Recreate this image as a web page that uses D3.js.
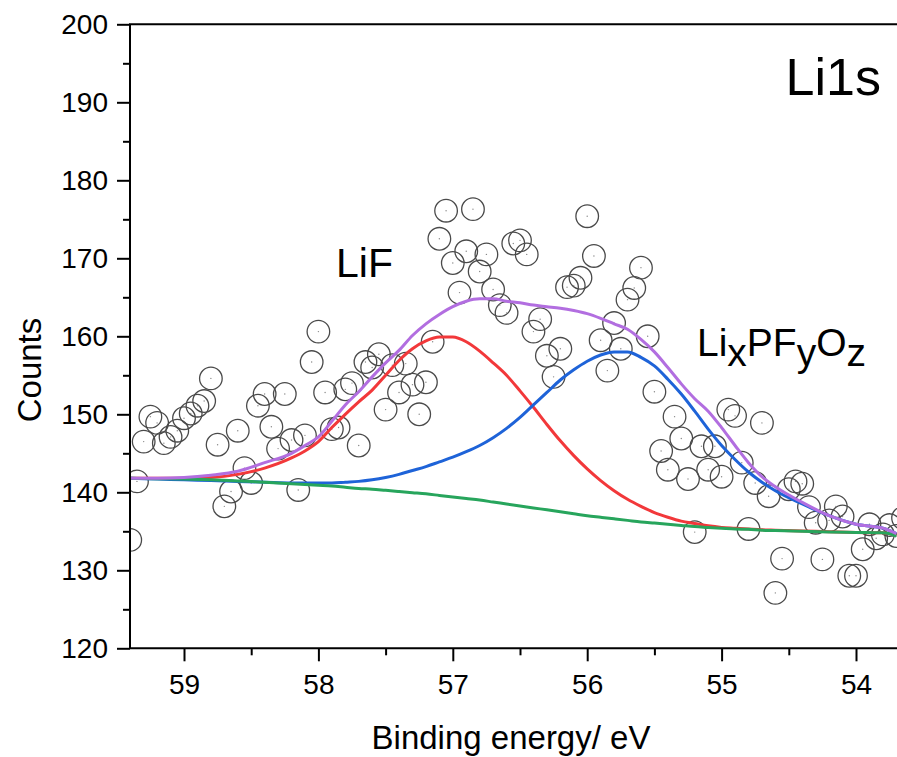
<!DOCTYPE html>
<html>
<head>
<meta charset="utf-8">
<script src="https://cdn.jsdelivr.net/npm/d3@7"></script>
<style>
  html, body { margin: 0; padding: 0; background: #fff; }
  svg { display: block; font-family: "Liberation Sans", Arial, sans-serif; }
</style>
</head>
<body>
<svg id="chart" width="897" height="757"></svg>
<script>
// Li 1s spectrum: measured counts (open circles) and fitted components
const bindingEnergy = [
  59.40, 59.35, 59.30, 59.25, 59.20, 59.15, 59.10, 59.05, 59.00, 58.95,
  58.90, 58.85, 58.80, 58.75, 58.70, 58.65, 58.60, 58.55, 58.50, 58.45,
  58.40, 58.35, 58.30, 58.25, 58.20, 58.15, 58.10, 58.05, 58.00, 57.95,
  57.90, 57.85, 57.80, 57.75, 57.70, 57.65, 57.60, 57.55, 57.50, 57.45,
  57.40, 57.35, 57.30, 57.25, 57.20, 57.15, 57.10, 57.05, 57.00, 56.95,
  56.90, 56.85, 56.80, 56.75, 56.70, 56.65, 56.60, 56.55, 56.50, 56.45,
  56.40, 56.35, 56.30, 56.25, 56.20, 56.15, 56.10, 56.05, 56.00, 55.95,
  55.90, 55.85, 55.80, 55.75, 55.70, 55.65, 55.60, 55.55, 55.50, 55.45,
  55.40, 55.35, 55.30, 55.25, 55.20, 55.15, 55.10, 55.05, 55.00, 54.95,
  54.90, 54.85, 54.80, 54.75, 54.70, 54.65, 54.60, 54.55, 54.50, 54.45,
  54.40, 54.35, 54.30, 54.25, 54.20, 54.15, 54.10, 54.05, 54.00, 53.95,
  53.90, 53.85, 53.80, 53.75, 53.70, 53.65
];
const counts = [
  133.9, 141.4, 146.5, 149.7, 148.9, 146.3, 147.1, 147.9, 149.5, 150.1,
  151.1, 151.7, 154.6, 146.1, 138.2, 140.1, 147.9, 143.1, 141.2, 151.1,
  152.6, 148.4, 145.6, 152.6, 146.7, 140.3, 147.3, 156.7, 160.6, 152.8,
  148.1, 148.3, 153.2, 154.0, 146.0, 156.7, 156.0, 157.7, 150.6, 156.3,
  152.8, 156.5, 153.8, 150.0, 154.1, 159.3, 172.5, 176.1, 169.4, 165.6,
  170.9, 176.3, 168.3, 170.5, 166.0, 164.0, 163.0, 171.9, 172.3, 170.5,
  160.6, 162.2, 157.5, 154.8, 158.4, 166.3, 166.5, 167.5, 175.4, 170.3,
  159.5, 155.6, 161.7, 158.4, 164.7, 166.2, 168.8, 160.0, 152.9, 145.3,
  142.9, 149.7, 146.9, 141.7, 134.9, 145.9, 142.9, 145.9, 142.0, 150.6,
  149.8, 143.8, 135.3, 141.2, 148.9, 139.5, 127.1, 131.5, 140.4, 141.4,
  141.1, 138.1, 136.1, 131.4, 136.4, 138.2, 136.9, 129.3, 129.3, 132.7,
  135.9, 134.1, 134.6, 135.8, 134.4, 136.7
];

// Fit curves, sampled on a common energy grid
const fitEnergy = [
  59.4, 59.2, 59.0, 58.8, 58.6, 58.4, 58.2, 58.1, 58.0, 57.9,
  57.8, 57.7, 57.6, 57.5, 57.4, 57.3, 57.2, 57.1, 57.0, 56.9,
  56.8, 56.7, 56.6, 56.5, 56.4, 56.3, 56.2, 56.1, 56.0, 55.9,
  55.8, 55.7, 55.6, 55.5, 55.4, 55.3, 55.2, 55.1, 55.0, 54.9,
  54.8, 54.7, 54.6, 54.4, 54.2, 54.0, 53.8, 53.7
];
const envelope = [
  141.8, 141.8, 141.9, 142.2, 142.7, 143.8, 145.0, 146.0, 147.1, 149.1,
  151.2, 152.9, 154.8, 156.6, 158.2, 160.1, 161.6, 162.8, 163.8, 164.5,
  164.8, 164.8, 164.5, 164.3, 164.0, 163.8, 163.6, 163.3, 162.9, 162.3,
  161.6, 160.9, 159.6, 158.0, 156.0, 153.9, 152.0, 150.4, 148.3, 146.0,
  143.8, 142.0, 140.7, 138.7, 137.0, 135.9, 135.4, 134.7
];
const lifPeak = [
  141.8, 141.8, 141.8, 141.9, 142.3, 143.1, 144.4, 145.3, 146.5, 148.3,
  150.0, 151.6, 153.1, 155.0, 156.9, 158.4, 159.4, 159.9, 159.9, 159.3,
  158.1, 156.6, 155.0, 153.0, 150.9, 148.7, 146.6, 144.7, 143.0, 141.5,
  140.2, 139.1, 138.2, 137.4, 136.8, 136.3, 136.0, 135.7, 135.5, 135.4,
  135.3, 135.2, 135.15, 135.05, 134.95, 134.85, 134.8, 134.5
];
const lixpfyozPeak = [
  141.8, 141.7, 141.6, 141.5, 141.4, 141.3, 141.2, 141.2, 141.2, 141.2,
  141.3, 141.4, 141.6, 141.9, 142.3, 142.8, 143.3, 143.9, 144.5, 145.2,
  146.0, 147.0, 148.2, 149.6, 151.2, 152.8, 154.4, 155.7, 156.8, 157.6,
  158.0, 158.0, 157.3, 156.2, 154.5, 152.6, 150.4, 148.1, 146.0, 144.2,
  142.6, 141.3, 140.2, 138.5, 137.0, 135.9, 135.4, 134.7
];
const background = [
  141.8, 141.75, 141.7, 141.6, 141.45, 141.3, 141.1, 141.0, 140.9, 140.8,
  140.65, 140.5, 140.4, 140.25, 140.1, 139.95, 139.8, 139.6, 139.4, 139.2,
  139.0, 138.75, 138.5, 138.25, 138.0, 137.75, 137.5, 137.25, 137.0, 136.8,
  136.6, 136.4, 136.2, 136.05, 135.9, 135.75, 135.6, 135.5, 135.4, 135.3,
  135.25, 135.15, 135.1, 135.0, 134.9, 134.85, 134.8, 134.4
];

const xMajorTicks = [59, 58, 57, 56, 55, 54];
const xMinorTicks = [58.5, 57.5, 56.5, 55.5, 54.5];
const yMajorTicks = [120, 130, 140, 150, 160, 170, 180, 190, 200];
const yMinorTicks = [125, 135, 145, 155, 165, 175, 185, 195];

const svg = d3.select("#chart");
const plotLeft = 130, plotTop = 24.3, plotBottom = 648.3, plotRight = 897;

const x = d3.scaleLinear().domain([59, 54]).range([184, 856]);
const y = d3.scaleLinear().domain([120, 200]).range([plotBottom, plotTop]);

svg.append("defs").append("clipPath").attr("id", "plot-clip")
  .append("rect")
  .attr("x", plotLeft).attr("y", plotTop - 20)
  .attr("width", 1000).attr("height", plotBottom - plotTop + 20);

// measured points
const pts = svg.append("g").attr("clip-path", "url(#plot-clip)");
const data = bindingEnergy.map((e, i) => ({ e, c: counts[i] }));
pts.selectAll("circle.pt").data(data).join("circle")
  .attr("class", "pt")
  .attr("cx", d => x(d.e)).attr("cy", d => y(d.c))
  .attr("r", 11.3)
  .attr("fill", "none").attr("stroke", "#4a4a4a").attr("stroke-width", 1.3);
pts.selectAll("circle.dot").data(data).join("circle")
  .attr("class", "dot")
  .attr("cx", d => x(d.e)).attr("cy", d => y(d.c))
  .attr("r", 0.7).attr("fill", "#888");

// fitted lines
const lines = svg.append("g").attr("clip-path", "url(#plot-clip)");
const lineGen = vals => d3.line()
  .x((d, i) => x(fitEnergy[i]))
  .y(d => y(d))
  .curve(d3.curveMonotoneX)(vals);
const fits = [
  { vals: lifPeak, color: "#f2383a" },
  { vals: lixpfyozPeak, color: "#1e63d8" },
  { vals: background, color: "#27a55c" },
  { vals: envelope, color: "#b26ee0" }
];
fits.forEach(f => {
  lines.append("path")
    .attr("d", lineGen(f.vals))
    .attr("fill", "none")
    .attr("stroke", f.color)
    .attr("stroke-width", 3)
    .attr("stroke-linejoin", "round");
});

// axes
const axisFont = 28;
const yAxis = svg.append("g").attr("transform", `translate(${plotLeft},0)`)
  .call(d3.axisLeft(y).tickValues(yMajorTicks).tickSize(13).tickSizeOuter(0)
    .tickPadding(9).tickFormat(d3.format("d")));
svg.append("g").attr("transform", `translate(${plotLeft},0)`)
  .call(d3.axisLeft(y).tickValues(yMinorTicks).tickSize(7).tickSizeOuter(0).tickFormat(""))
  .select(".domain").remove();

const xAxis = svg.append("g").attr("transform", `translate(0,${plotBottom})`)
  .call(d3.axisBottom(x).tickValues(xMajorTicks).tickSize(13).tickSizeOuter(0)
    .tickPadding(13).tickFormat(d3.format("d")));
svg.append("g").attr("transform", `translate(0,${plotBottom})`)
  .call(d3.axisBottom(x).tickValues(xMinorTicks).tickSize(7).tickSizeOuter(0).tickFormat(""))
  .select(".domain").remove();

// extend the axis lines across the full plot frame
yAxis.select(".domain").attr("d", `M0,${plotTop}V${plotBottom}`);
xAxis.select(".domain").attr("d", `M${plotLeft},0H${plotRight}`);

svg.selectAll(".tick line").attr("stroke", "#000").attr("stroke-width", 2);
svg.selectAll(".domain").attr("stroke", "#000").attr("stroke-width", 2);
svg.selectAll(".tick text")
  .attr("fill", "#000")
  .style("font-size", axisFont + "px")
  .style("font-family", '"Liberation Sans", Arial, sans-serif');

// top frame line
svg.append("line")
  .attr("x1", plotLeft - 1).attr("x2", plotRight)
  .attr("y1", plotTop).attr("y2", plotTop)
  .attr("stroke", "#000").attr("stroke-width", 2);

// axis titles
svg.append("text")
  .attr("x", 511).attr("y", 749)
  .attr("text-anchor", "middle")
  .style("font-size", "33px")
  .text("Binding energy/ eV");
svg.append("text")
  .attr("transform", "translate(41,370) rotate(-90)")
  .attr("text-anchor", "middle")
  .style("font-size", "33px")
  .text("Counts");

// annotations
svg.append("text")
  .attr("x", 881).attr("y", 95)
  .attr("text-anchor", "end")
  .style("font-size", "52px")
  .text("Li1s");
svg.append("text")
  .attr("x", 336).attr("y", 277)
  .style("font-size", "41px")
  .text("LiF");

const comp = svg.append("text")
  .attr("x", 697).attr("y", 356)
  .style("font-size", "39px");
[["Li", 0], ["x", 1], ["PF", 0], ["y", 1], ["O", 0], ["z", 1]].forEach(([t, sub], i, arr) => {
  const prevSub = i > 0 ? arr[i - 1][1] : 0;
  comp.append("tspan")
    .attr("dy", (sub - prevSub) * 10)
    .text(t);
});
</script>
</body>
</html>
